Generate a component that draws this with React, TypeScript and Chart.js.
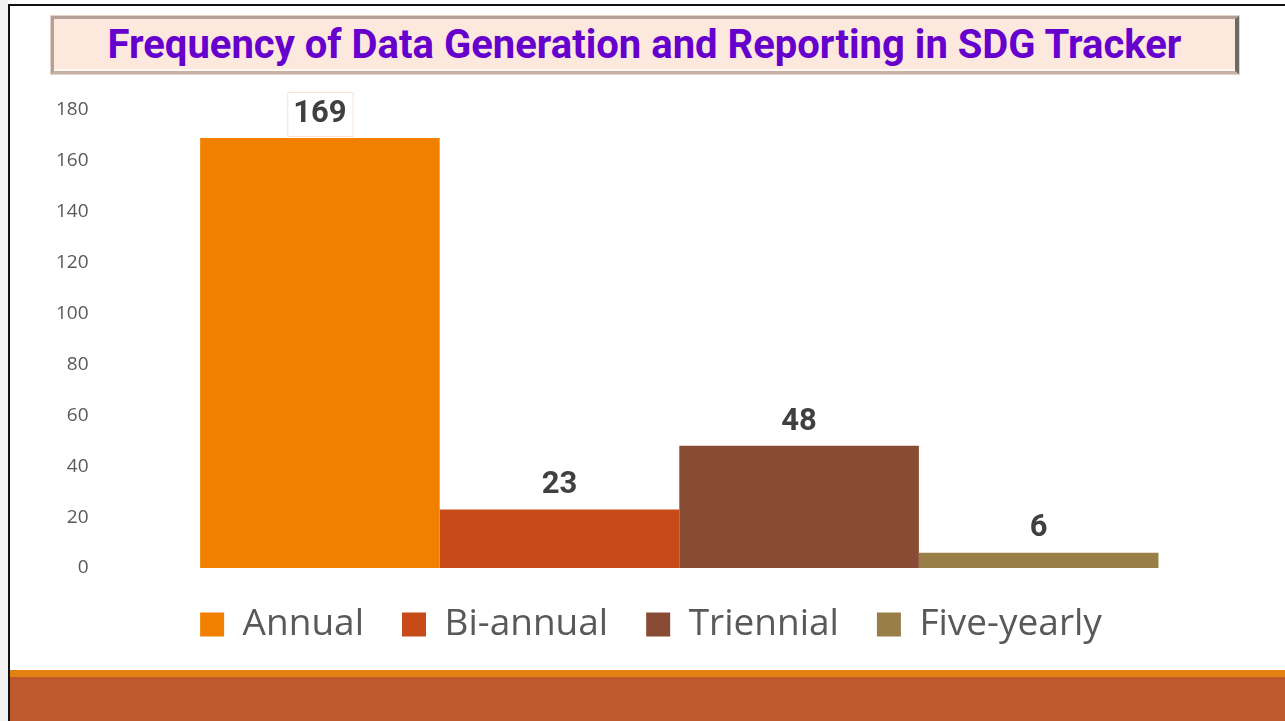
import React, { useEffect, useRef } from "react";
import { Chart, registerables } from "chart.js";

Chart.register(...registerables);

const TITLE = "Frequency of Data Generation and Reporting in SDG Tracker";
const CATEGORY = ["Frequency"];
const SERIES_NAMES = ["Annual", "Bi-annual", "Triennial", "Five-yearly"];
const SERIES_VALUES = [169, 23, 48, 6];
const SERIES_COLORS = ["#F18000", "#C64B19", "#884B34", "#9A7E47"];
const Y_MIN = 0;
const Y_MAX = 180;
const Y_STEP = 20;

const labelPlugin = {
  id: "barValueLabels",
  afterDatasetsDraw(chart: any) {
    const { ctx } = chart;
    ctx.save();
    ctx.font = "bold 31px Roboto";
    ctx.textAlign = "center";
    ctx.textBaseline = "middle";
    chart.data.datasets.forEach((ds: any, i: number) => {
      const meta = chart.getDatasetMeta(i);
      meta.data.forEach((bar: any, j: number) => {
        const v = ds.data[j];
        const x = bar.x;
        const y = bar.y - 24;
        if (i === 0) {
          const w = ctx.measureText(String(v)).width;
          ctx.fillStyle = "#ffffff";
          ctx.fillRect(x - w / 2 - 6, y - 22, w + 12, 44);
          ctx.strokeStyle = "#FBE3CF";
          ctx.lineWidth = 1;
          ctx.strokeRect(x - w / 2 - 6 + 0.5, y - 22 + 0.5, w + 12, 44);
        }
        ctx.fillStyle = "#404040";
        ctx.fillText(String(v), x, y);
      });
    });
    ctx.restore();
  },
};

function BarChart() {
  const ref = useRef<HTMLCanvasElement | null>(null);
  useEffect(() => {
    if (!ref.current) return;
    const chart = new Chart(ref.current, {
      type: "bar",
      data: {
        labels: CATEGORY,
        datasets: SERIES_NAMES.map((name, i) => ({
          label: name,
          data: [SERIES_VALUES[i]],
          backgroundColor: SERIES_COLORS[i],
          borderColor: SERIES_COLORS[i],
          borderWidth: 0,
          barPercentage: 1,
          categoryPercentage: 0.828,
        })),
      },
      options: {
        animation: false,
        responsive: true,
        maintainAspectRatio: false,
        layout: { padding: { top: 30, left: 34, right: 27, bottom: 17 } },
        plugins: {
          legend: {
            position: "bottom",
            labels: {
              boxWidth: 24,
              boxHeight: 24,
              padding: 38,
              color: "#595959",
              font: { family: "'Open Sans'", size: 37 },
            },
          },
          tooltip: { enabled: false },
          title: { display: false },
        },
        scales: {
          x: { display: false },
          y: {
            min: Y_MIN,
            max: Y_MAX,
            border: { display: false },
            grid: { display: false, drawTicks: false },
            ticks: {
              stepSize: Y_STEP,
              padding: 12,
              color: "#595959",
              font: { family: "'Open Sans'", size: 19 },
            },
          },
        },
      },
      plugins: [labelPlugin],
    });
    return () => chart.destroy();
  }, []);
  return <canvas ref={ref} />;
}

export default function App() {
  return (
    <div
      style={{
        position: "fixed",
        left: 0,
        top: 0,
        width: 1285,
        height: 721,
        background: "#ffffff",
        overflow: "hidden",
      }}
    >
      <div style={{ position: "absolute", left: 0, top: 0, width: 8, height: 721, background: "#f2f2f2" }} />
      <div style={{ position: "absolute", left: 8, top: 4, width: 2, height: 717, background: "#111" }} />
      <div style={{ position: "absolute", left: 8, top: 4, width: 1277, height: 2, background: "#111" }} />
      <div style={{ position: "absolute", left: 10, top: 670, width: 1275, height: 7, background: "#E38012" }} />
      <div style={{ position: "absolute", left: 10, top: 677, width: 1275, height: 44, background: "#BD5A2D" }} />
      <div
        style={{
          position: "absolute",
          left: 51,
          top: 16,
          width: 1188,
          height: 58,
          boxSizing: "border-box",
          background: "#FDE8DE",
          borderStyle: "solid",
          borderWidth: "3px 4px 3px 3px",
          borderColor: "#B3A098 #6F6966 #C7B1A7 #B3A098",
          boxShadow: "inset 0 -2px 0 #FFF7F2, 0 0 0 1px #E3D0C6",
          display: "flex",
          alignItems: "center",
          justifyContent: "center",
          overflow: "visible",
        }}
      >
        <span
          style={{
            display: "inline-block",
            whiteSpace: "nowrap",
            fontFamily: "Roboto, sans-serif",
            fontWeight: 700,
            fontSize: 40,
            color: "#6600CC",
            lineHeight: "50px",
          }}
        >
          {TITLE}
        </span>
      </div>
      <div style={{ position: "absolute", left: 10, top: 80, width: 1275, height: 590 }}>
        <BarChart />
      </div>
    </div>
  );
}
